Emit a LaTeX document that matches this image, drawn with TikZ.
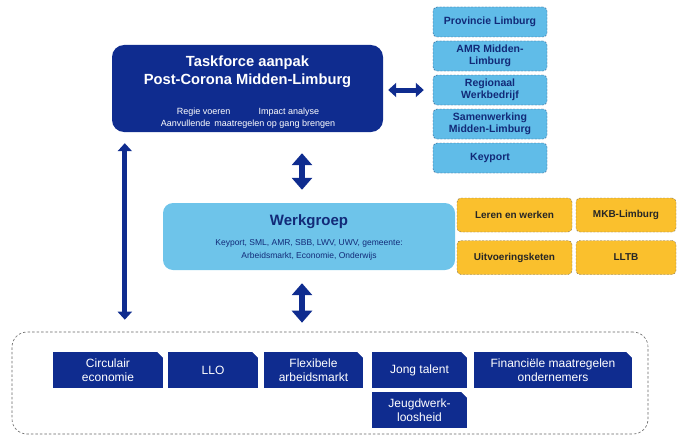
\documentclass[tikz,border=0pt]{standalone}
\usepackage{fontspec}
\setmainfont{Liberation Sans}
\usetikzlibrary{arrows.meta}
\definecolor{tfblue}{RGB}{15,44,143}
\definecolor{colblue}{RGB}{96,188,232}
\definecolor{colline}{RGB}{45,80,125}
\definecolor{wgblue}{RGB}{110,196,234}
\definecolor{navy}{RGB}{18,42,120}
\definecolor{oranje}{RGB}{250,192,45}
\definecolor{oranjeline}{RGB}{125,110,80}
\begin{document}
\begin{tikzpicture}[x=1pt,y=-1pt, line join=round,
	tfbox/.style={fill=tfblue, rounded corners=12pt, minimum width=271pt, minimum height=87pt},
	colbox/.style={fill=colblue, draw=colline, dash pattern=on 2pt off 1.5pt, rounded corners=4pt, minimum width=114pt, minimum height=30pt, text=navy, align=center, font=\fontsize{10.5}{12.5}\selectfont\bfseries},
	wgbox/.style={fill=wgblue, rounded corners=10pt, minimum width=292pt, minimum height=67pt},
	geel/.style={fill=oranje, draw=oranjeline, dash pattern=on 2pt off 1.5pt, rounded corners=4pt, minimum height=34pt, text=black!85, font=\fontsize{10}{12}\selectfont\bfseries},
	topic/.style={fill=tfblue, text=white, align=center, minimum height=36pt, font=\fontsize{12}{14.5}\selectfont},
	bigarrow/.style={draw=tfblue, line width=6pt, {Triangle[width=20pt,length=12pt]}-{Triangle[width=20pt,length=12pt]}},
	slimarrow/.style={draw=tfblue, line width=5pt, {Triangle[width=14pt,length=8pt]}-{Triangle[width=14pt,length=8pt]}}]
	\useasboundingbox (0,0) rectangle (679,436);
	% taskforce
	\node[tfbox] (tf) at (247.5,88.5) {};
	\node[text=white, align=center, font=\fontsize{14.7}{18}\selectfont\bfseries] (tftitle) at (247.5,72) {Taskforce aanpak\\Post-Corona Midden-Limburg};
	\node[text=white, align=center, font=\fontsize{9}{12}\selectfont] (tfsub) at (248,118) {Regie voeren\hspace{28pt}Impact analyse\\Aanvullende\, maatregelen op gang brengen};
	% partners rechts
	\node[colbox] (pl) at (490,22) {Provincie Limburg};
	\node[colbox] (amr) at (490,56) {AMR Midden-\\Limburg};
	\node[colbox] (rw) at (490,90) {Regionaal\\Werkbedrijf};
	\node[colbox] (sml) at (490,124) {Samenwerking\\Midden-Limburg};
	\node[colbox] (kp) at (490,158) {Keyport};
	% werkgroep
	\node[wgbox] (wg) at (309,236.5) {};
	\node[text=navy, font=\fontsize{15}{18}\selectfont\bfseries] (wgtitle) at (309,222) {Werkgroep};
	\node[text=navy, align=center, font=\fontsize{8.5}{13}\selectfont] (wgsub) at (309,250) {Keyport, SML, AMR, SBB, LWV, UWV, gemeente:\\Arbeidsmarkt, Economie, Onderwijs};
	\node[geel, minimum width=115pt] (lw) at (514.5,215) {Leren en werken};
	\node[geel, minimum width=100pt] (mkb) at (626,215) {MKB-Limburg};
	\node[geel, minimum width=115pt] (uk) at (514.5,257.5) {Uitvoeringsketen};
	\node[geel, minimum width=100pt] (lltb) at (626,257.5) {LLTB};
	% thema's onder
	\node[draw=black!60, line width=0.6pt, dash pattern=on 2.5pt off 2pt, rounded corners=15pt, minimum width=636pt, minimum height=102pt] (cont) at (330,383) {};
	\node[topic, minimum width=110pt] (ce) at (108,370) {Circulair\\economie};
	\node[topic, minimum width=90pt] (llo) at (213,370) {LLO};
	\node[topic, minimum width=99pt] (fa) at (313.5,370) {Flexibele\\arbeidsmarkt};
	\node[topic, minimum width=95pt] (jt) at (419.5,370) {Jong talent};
	\node[topic, minimum width=158pt] (fm) at (553,370) {Financi\"ele maatregelen\\ondernemers};
	\node[topic, minimum width=95pt] (jw) at (419.5,410) {Jeugdwerk-\\loosheid};
	\foreach \n in {ce,llo,fa,jt,fm,jw}
		\fill[white] (\n.north east) -- ++(-6,0) -- ++(6,6) -- cycle;
	% pijlen
	\coordinate (mid) at (302,0);
	\draw[slimarrow, shorten <=5pt, shorten >=9pt] (tf.east |- rw.west) -- (rw.west);
	\draw[bigarrow, shorten <=21pt, shorten >=13pt] (tf.south -| mid) -- (wg.north -| mid);
	\draw[bigarrow, shorten <=13pt, shorten >=9pt] (wg.south -| mid) -- (cont.north -| mid);
	\draw[slimarrow, shorten <=11pt, shorten >=12pt] ([xshift=13pt]tf.south west) -- ([xshift=13pt]tf.south west |- cont.north);
\end{tikzpicture}
\end{document}
